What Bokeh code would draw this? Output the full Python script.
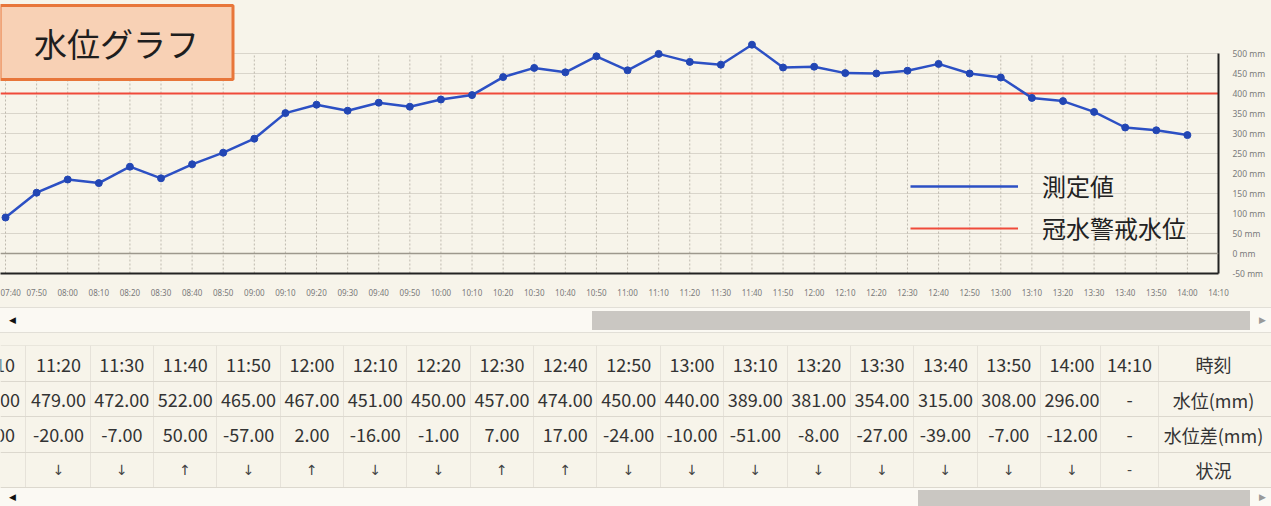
import numpy as np
from bokeh.plotting import figure
from bokeh.models import (Range1d, FixedTicker, PrintfTickFormatter, Span, Legend,
                          LegendItem, Label, Grid, Div)
from bokeh.layouts import column
from bokeh.core.properties import value
from bokeh.embed import file_html
from bokeh.resources import INLINE

# ---------------- data ----------------
times = ["07:40", "07:50", "08:00", "08:10", "08:20", "08:30", "08:40", "08:50",
         "09:00", "09:10", "09:20", "09:30", "09:40", "09:50", "10:00", "10:10",
         "10:20", "10:30", "10:40", "10:50", "11:00", "11:10", "11:20", "11:30",
         "11:40", "11:50", "12:00", "12:10", "12:20", "12:30", "12:40", "12:50",
         "13:00", "13:10", "13:20", "13:30", "13:40", "13:50", "14:00", "14:10"]
levels = [90, 152, 185, 176, 217, 188, 223, 252,
          287, 351, 372, 357, 377, 367, 385, 396,
          441, 464, 453, 493, 458, 499, 479, 472,
          522, 465, 467, 451, 450, 457, 474, 450,
          440, 389, 381, 354, 315, 308, 296, None]
alert_level = 400
y_ticks = [-50, 0, 50, 100, 150, 200, 250, 300, 350, 400, 450, 500]
legend_labels = ["測定値", "冠水警戒水位"]
title_text = "水位グラフ"
row_labels = ["時刻", "水位(mm)", "水位差(mm)", "状況"]
table_first_time = "11:10"

# ---------------- style ----------------
BG = "#f7f4ea"
GRID_H = "#d9d5cb"
GRID_V = "#bfbaaf"
ZERO = "#9d988d"
BLUE = "#2c50c4"
MARK = "#2246b4"
RED = "#f04a3a"
TITLE_FILL = "#f8d1b5"
TITLE_BORDER = "#e8763a"
TXT = "#333333"
JP = "Noto Sans CJK JP"

W = 1271
CH_H = 305
FR_BOT, FR_RIGHT = 273, 1218
PX_PER_MM = 0.4
FIRST_TICK_PX = 5

mins = [int(t[:2]) * 60 + int(t[3:]) for t in times]
x_end = mins[-1]
x_start = (mins[0] * FR_RIGHT - FIRST_TICK_PX * x_end) / (FR_RIGHT - FIRST_TICK_PX)
y_lo = y_ticks[0]
y_hi = y_lo + FR_BOT / PX_PER_MM

lv = np.array([np.nan if v is None else v for v in levels], dtype=float)

p = figure(width=W, height=CH_H, x_range=Range1d(x_start, x_end),
           y_range=Range1d(y_lo, y_hi), y_axis_location="right",
           output_backend="svg", toolbar_location=None, title=None,
           min_border_left=0, min_border_right=W - FR_RIGHT,
           min_border_top=0, min_border_bottom=CH_H - FR_BOT,
           background_fill_color=BG, border_fill_color=BG,
           outline_line_color=None, frame_align=False)

# vertical grid (only over the scale's extent) and horizontal grid
p.xgrid.visible = False
p.segment(x0=mins, y0=[y_ticks[0]] * len(mins), x1=mins, y1=[y_ticks[-1]] * len(mins),
          line_color=GRID_V, line_width=1, line_dash="2 2")
p.ygrid.ticker = FixedTicker(ticks=y_ticks)
p.ygrid.grid_line_color = GRID_H
p.ygrid.grid_line_width = 1

xa = p.xaxis[0]
xa.ticker = FixedTicker(ticks=mins)
xa.major_label_overrides = {m: t for m, t in zip(mins, times)}
xa.axis_line_color = "#222222"
xa.axis_line_width = 2
xa.major_tick_line_color = None
xa.minor_tick_line_color = None
xa.major_label_text_font = "Noto Sans"
xa.major_label_text_font_size = "8px"
xa.major_label_text_color = "#7a7a7a"
xa.major_label_standoff = 7

ya = p.yaxis[0]
ya.ticker = FixedTicker(ticks=y_ticks)
ya.bounds = (y_ticks[0], y_ticks[-1])
ya.formatter = PrintfTickFormatter(format="%d mm")
ya.axis_line_color = "#222222"
ya.axis_line_width = 2
ya.major_tick_line_color = None
ya.minor_tick_line_color = None
ya.major_label_text_font = "Noto Sans"
ya.major_label_text_font_size = "8.5px"
ya.major_label_text_color = "#7a7a7a"
ya.major_label_standoff = 8

p.add_layout(Span(location=0, dimension="width", line_color=ZERO, line_width=1.5))

red_r = p.line(x=[x_start, x_end], y=[alert_level, alert_level],
               line_color=RED, line_width=2)
line_r = p.line(mins, lv, line_color=BLUE, line_width=2.5)
p.scatter(mins, lv, size=7, fill_color=MARK, line_color=MARK)

legend = Legend(items=[LegendItem(label=legend_labels[0], renderers=[line_r]),
                       LegendItem(label=legend_labels[1], renderers=[red_r])],
                location=(910, 28), orientation="vertical",
                glyph_width=108, glyph_height=24, label_height=24,
                label_standoff=24, spacing=7, padding=0, margin=0,
                label_text_font=JP, label_text_font_size="24px",
                label_text_color="#222222",
                background_fill_alpha=0, border_line_alpha=0)
p.add_layout(legend)


def px_x(px):
    return x_start + px * (x_end - x_start) / FR_RIGHT


def py_y(py):
    return y_lo + (FR_BOT - py) / PX_PER_MM


p.add_layout(Label(x=px_x(116), y=py_y(42), text=title_text,
                   text_align="center", text_baseline="middle",
                   text_font=JP, text_font_size="33px", text_color="#1e1e1e",
                   background_fill_color=TITLE_FILL, background_fill_alpha=1,
                   border_line_color=TITLE_BORDER, border_line_width=3,
                   padding=dict(left=34, right=34, top=13, bottom=13)))


# ---------------- scrollbars ----------------
def scroll_html(h, track_top, track_h, thumb_l, thumb_r, thumb_top, thumb_h, arrow_top, border):
    b = "border-top:1px solid #e2dfd7;border-bottom:1px solid #e2dfd7;" if border else ""
    return (
        f'<div style="position:relative;width:{W}px;height:{h}px;background:{BG};overflow:hidden;">'
        f'<div style="position:absolute;left:0;top:{track_top}px;width:{W}px;height:{track_h}px;background:#fbf9f3;{b}"></div>'
        f'<div style="position:absolute;left:{thumb_l}px;top:{thumb_top}px;width:{thumb_r - thumb_l}px;height:{thumb_h}px;background:#cac7c2;"></div>'
        f'<span style="position:absolute;left:9px;top:{arrow_top}px;font-family:DejaVu Sans;font-size:9px;line-height:10px;color:#111;">◀</span>'
        f'<span style="position:absolute;left:1259px;top:{arrow_top}px;font-family:DejaVu Sans;font-size:9px;line-height:10px;color:#999;">▶</span>'
        '</div>')


div1 = Div(text=scroll_html(40, 2, 26, 592, 1250, 6, 19, 10, True),
           width=W, height=40, margin=0, styles={"background-color": BG})

# ---------------- table ----------------
TB_H = 143
i0 = times.index(table_first_time)
tab_times = times[i0:]
tab_levels = levels[i0:]
tab_diffs = []
for i in range(i0, len(times)):
    if levels[i] is None or levels[i - 1] is None:
        tab_diffs.append(None)
    else:
        tab_diffs.append(levels[i] - levels[i - 1])
tab_status = ["-" if d is None else ("↑" if d > 0 else "↓") for d in tab_diffs]
lvl_txt = ["-" if v is None else f"{v:.2f}" for v in tab_levels]
dif_txt = ["-" if d is None else f"{d:.2f}" for d in tab_diffs]

n = len(tab_times)
col_x = [-8.0] + [58 + 63.35 * k for k in range(n - 2)] + [1129.0]
label_x = 1213
row_y = [18, 54, 89, 124]
row_bounds = [0, 36, 71, 107, 142]
col_bounds = [(a + b) / 2 for a, b in zip(col_x[:-1], col_x[1:])] + [1158]

t = figure(width=W, height=TB_H, x_range=Range1d(0, W), y_range=Range1d(TB_H, -0.5),
           x_axis_type=None, y_axis_type=None, output_backend="svg",
           toolbar_location=None, title=None, min_border=0,
           background_fill_color=BG, border_fill_color=BG, outline_line_color=None,
           frame_align=False)
t.add_layout(Grid(dimension=0, ticker=FixedTicker(ticks=col_bounds),
                  grid_line_color="#e6e2d9", grid_line_width=1))
t.add_layout(Grid(dimension=1, ticker=FixedTicker(ticks=row_bounds),
                  grid_line_color="#dcd8ce", grid_line_width=1))

for ry, txts in [(row_y[0], tab_times), (row_y[1], lvl_txt), (row_y[2], dif_txt)]:
    t.text(x=col_x, y=[ry] * n, text=txts, text_align="center", text_baseline="middle",
           text_font=value(JP), text_font_size="18px", text_color=TXT)
t.text(x=col_x, y=[row_y[3]] * n, text=tab_status, text_align="center",
       text_baseline="middle", text_font=value("DejaVu Sans"), text_font_size="14px",
       text_color="#444444")
t.text(x=[label_x] * 4, y=row_y, text=row_labels, text_align="center",
       text_baseline="middle", text_font=value(JP), text_font_size="18px",
       text_color=TXT)

div2 = Div(text=scroll_html(18, 0, 18, 918, 1250, 2, 16, 4, False),
           width=W, height=18, margin=0, styles={"background-color": BG})

layout = column(p, div1, t, div2, spacing=0, styles={"background-color": BG})

open("out.html", "w").write(file_html(layout, INLINE))
